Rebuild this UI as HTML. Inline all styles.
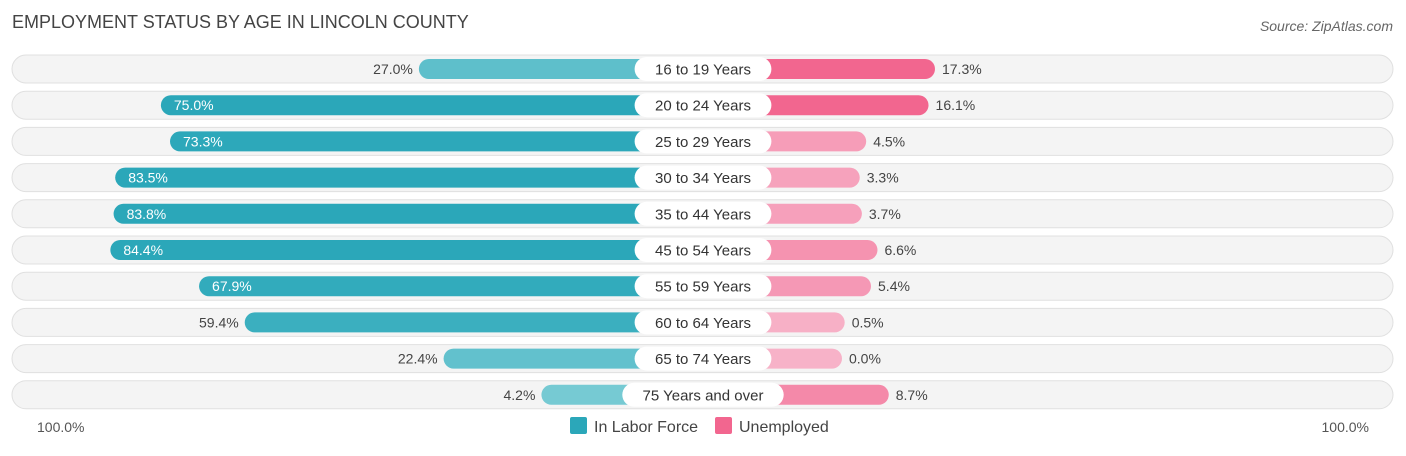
<!DOCTYPE html>
<html><head><meta charset="utf-8"><style>
body{margin:0;background:#fff;font-family:"Liberation Sans",sans-serif;}
svg text{font-family:"Liberation Sans",sans-serif;}
</style></head><body>
<svg id="chart" width="1406" height="451" xmlns="http://www.w3.org/2000/svg">
<text x="12" y="28" font-size="18" fill="#444">EMPLOYMENT STATUS BY AGE IN LINCOLN COUNTY</text>
<text x="1393" y="31" font-size="14" fill="#666" font-style="italic" text-anchor="end">Source: ZipAtlas.com</text>
<g id="rows"></g>
<text x="37" y="432" font-size="14" fill="#555">100.0%</text>
<text x="1369" y="432" font-size="14" fill="#555" text-anchor="end">100.0%</text>
<g>
<rect x="570" y="417" width="17" height="17" rx="2" fill="#2ba7b9"/>
<text x="594" y="432" font-size="16" fill="#444">In Labor Force</text>
<rect x="715" y="417" width="17" height="17" rx="2" fill="#f2668f"/>
<text x="739" y="432" font-size="16" fill="#444">Unemployed</text>
</g>
</svg>
<script>
const categories=["16 to 19 Years","20 to 24 Years","25 to 29 Years","30 to 34 Years","35 to 44 Years","45 to 54 Years","55 to 59 Years","60 to 64 Years","65 to 74 Years","75 Years and over"];
const laborForce=[27.0,75.0,73.3,83.5,83.8,84.4,67.9,59.4,22.4,4.2];
const unemployed=[17.3,16.1,4.5,3.3,3.7,6.6,5.4,0.5,0.0,8.7];
const NS="http://www.w3.org/2000/svg";
const cx=703,off=139,scale=5.375,y0=69,step=36.2;
const g=document.getElementById('rows');
function mk(t,a){const e=document.createElementNS(NS,t);for(const k in a)e.setAttribute(k,a[k]);return e;}
function mix(a,b,t){t=Math.max(0,Math.min(1,t));const r=a.map((v,i)=>Math.round(v+(b[i]-v)*t));return `rgb(${r.join(',')})`;}
const tl=[122,204,213],ts=[43,167,185],pl=[247,178,200],ps=[242,102,143];
function xL(v){return cx-off-v*scale;}
function xR(v){return cx+off+v*scale;}
categories.forEach((c,i)=>{
 const y=y0+i*step;
 const bg=mk('rect',{x:12,y:y-14,width:1381,height:28,rx:14,fill:'#f4f4f4',stroke:'#e0e0e0','stroke-width':1});
 g.appendChild(bg);
 const lv=laborForce[i],lx=xL(lv);
 const lb=mk('rect',{x:lx,y:y-10,width:cx-lx,height:20,rx:10,fill:mix(tl,ts,lv/75)});
 g.appendChild(lb);
 const uv=unemployed[i],ux=xR(uv);
 const ub=mk('rect',{x:cx,y:y-10,width:ux-cx,height:20,rx:10,fill:mix(pl,ps,uv/16)});
 g.appendChild(ub);
 const inside=lv>60;
 const lt=mk('text',{x:inside?lx+13:lx-6,y:y+5,'font-size':14,fill:inside?'#fff':'#444','text-anchor':inside?'start':'end'});
 lt.textContent=lv.toFixed(1)+'%';g.appendChild(lt);
 const ut=mk('text',{x:ux+7,y:y+5,'font-size':14,fill:'#444'});
 ut.textContent=uv.toFixed(1)+'%';g.appendChild(ut);
 const w=c.length*8.2+22;
 const pill=mk('rect',{x:cx-w/2,y:y-12,width:w,height:24,rx:12,fill:'#fff'});
 g.appendChild(pill);
 const ct=mk('text',{x:cx,y:y+5.5,'font-size':15,fill:'#333','text-anchor':'middle'});
 ct.textContent=c;g.appendChild(ct);
});
</script>
</body></html>
